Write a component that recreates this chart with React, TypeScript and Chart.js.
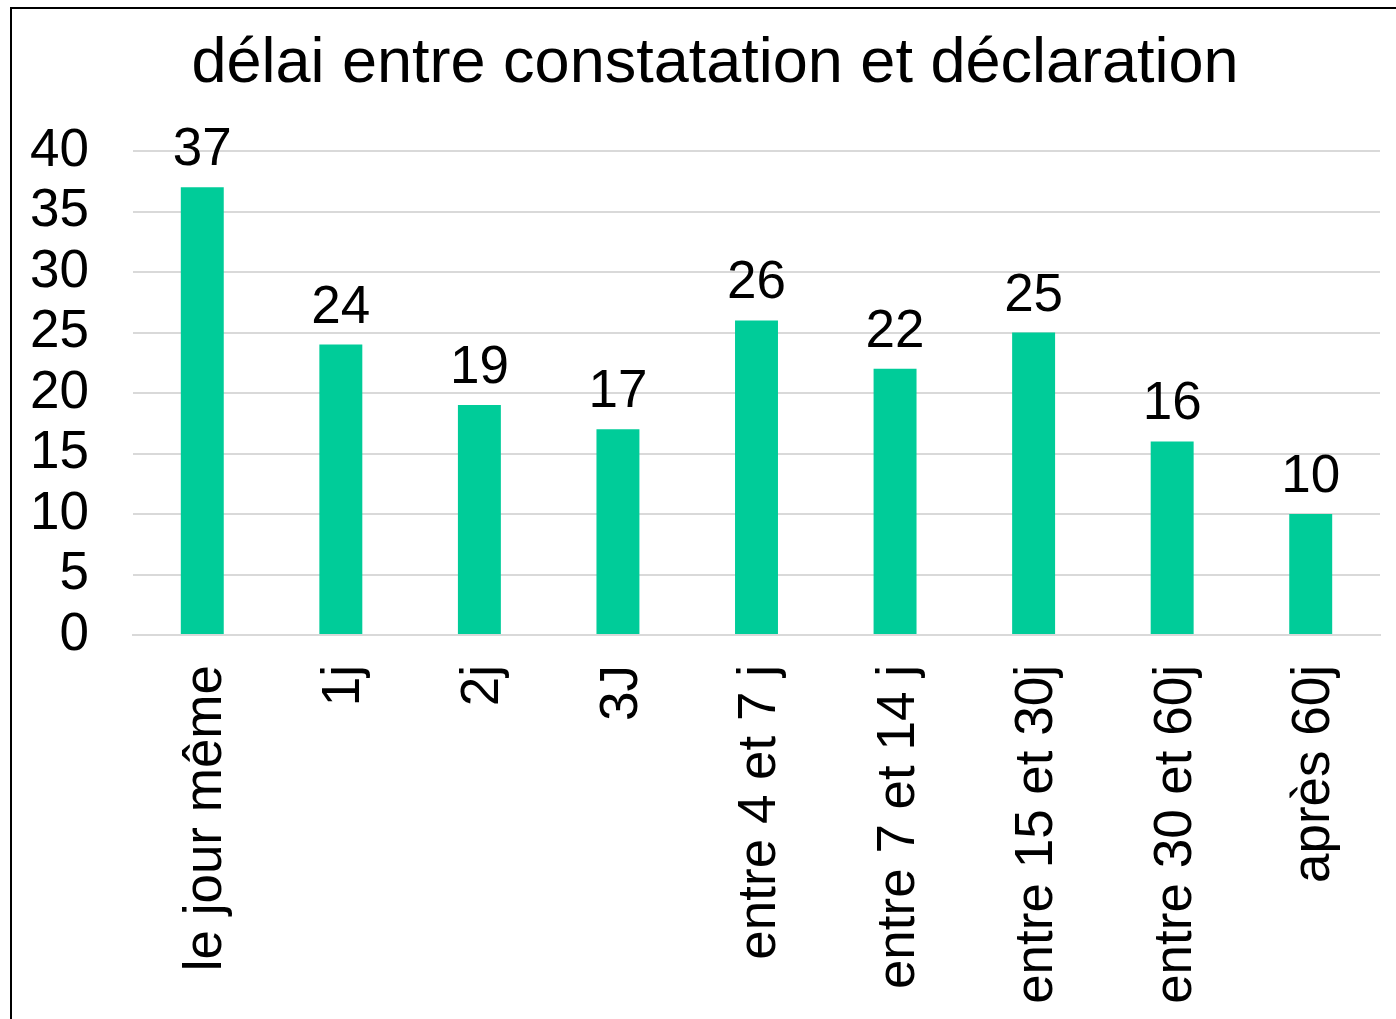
import React, { useEffect, useRef } from "react";
import { Chart, registerables } from "chart.js";

Chart.register(...registerables);

const categories = [
  "le jour même",
  "1j",
  "2j",
  "3J",
  "entre 4 et 7 j",
  "entre 7 et 14 j",
  "entre 15 et 30j",
  "entre 30 et 60j",
  "après 60j",
];
const values = [37, 24, 19, 17, 26, 22, 25, 16, 10];
const titleText = "délai entre constatation et déclaration";

const FONT = "'Liberation Sans', Arial, sans-serif";

const valueLabels = {
  id: "valueLabels",
  afterDatasetsDraw(chart: any) {
    const ctx = chart.ctx;
    const meta = chart.getDatasetMeta(0);
    ctx.save();
    ctx.font = `53px ${FONT}`;
    ctx.fillStyle = "#000000";
    ctx.textAlign = "center";
    ctx.textBaseline = "alphabetic";
    meta.data.forEach((bar: any, i: number) => {
      ctx.fillText(String(values[i]), bar.x, bar.y - 22);
    });
    ctx.restore();
  },
};

const chartTitle = {
  id: "chartTitle",
  afterDraw(chart: any) {
    const ctx = chart.ctx;
    ctx.save();
    ctx.font = `63px ${FONT}`;
    ctx.fillStyle = "#000000";
    ctx.textAlign = "center";
    ctx.textBaseline = "alphabetic";
    ctx.fillText(titleText, 715, 82);
    ctx.restore();
  },
};

export default function App() {
  const ref = useRef<HTMLCanvasElement | null>(null);
  useEffect(() => {
    if (!ref.current) return;
    const chart = new Chart(ref.current, {
      type: "bar",
      data: {
        labels: categories,
        datasets: [
          {
            data: values,
            backgroundColor: "#00CC99",
            barPercentage: 0.31,
            categoryPercentage: 1,
          },
        ],
      },
      options: {
        responsive: false,
        animation: false,
        layout: { padding: { left: 0, right: 16, top: 151, bottom: 0 } },
        plugins: {
          legend: { display: false },
          tooltip: { enabled: false },
          title: { display: false },
        },
        scales: {
          x: {
            grid: { display: false, drawTicks: false },
            border: { display: true, color: "#d9d9d9", width: 2 },
            ticks: {
              color: "#000000",
              font: { family: FONT, size: 53 },
              maxRotation: 90,
              minRotation: 90,
              padding: 30,
              labelOffset: 4,
              autoSkip: false,
            },
            afterFit(scale: any) {
              scale.height = 1019 - 635;
              scale.paddingLeft = 0;
              scale.paddingRight = 0;
            },
          },
          y: {
            min: 0,
            max: 40,
            grid: { color: "#d9d9d9", lineWidth: 2, drawTicks: false },
            border: { display: false },
            ticks: {
              stepSize: 5,
              autoSkip: false,
              color: "#000000",
              font: { family: FONT, size: 53 },
              padding: 44,
            },
            afterFit(scale: any) {
              scale.width = 133;
              scale.paddingTop = 0;
              scale.paddingBottom = 0;
            },
          },
        },
      },
      plugins: [valueLabels, chartTitle],
    });
    return () => chart.destroy();
  }, []);

  return (
    <div
      style={{
        position: "fixed",
        left: 0,
        top: 0,
        width: 1396,
        height: 1019,
        overflow: "hidden",
        background: "#ffffff",
      }}
    >
      <canvas
        ref={ref}
        width={1396}
        height={1019}
        style={{ position: "absolute", left: 0, top: 0, width: 1396, height: 1019 }}
      />
      <div
        style={{
          position: "absolute",
          left: 10,
          top: 7,
          width: 1400,
          height: 1030,
          borderLeft: "2px solid #000",
          borderTop: "2px solid #000",
          pointerEvents: "none",
        }}
      />
    </div>
  );
}
